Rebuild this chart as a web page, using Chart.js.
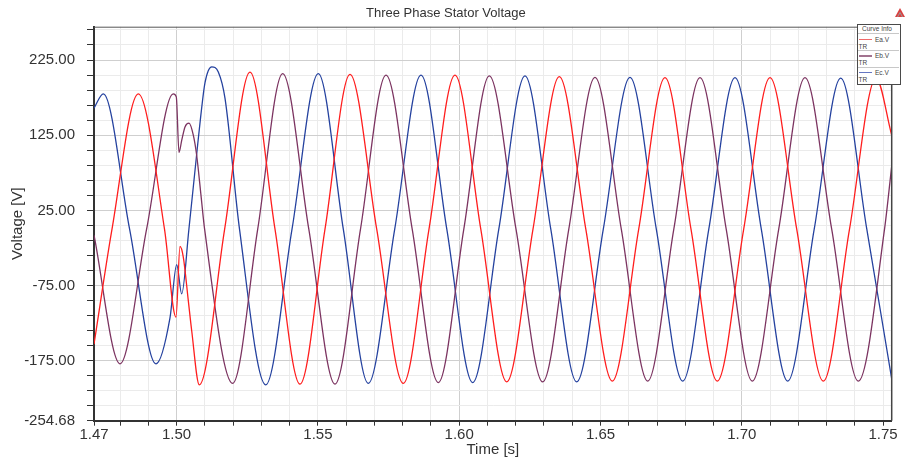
<!DOCTYPE html>
<html>
<head>
<meta charset="utf-8">
<script src="https://cdn.jsdelivr.net/npm/chart.js@4.4.1/dist/chart.umd.min.js"></script>
<style>
  body { margin: 0; background: #fff; }
  #wrap { position: relative; width: 909px; height: 463px; font-family: "Liberation Sans", Arial, sans-serif; }
  #info { position: absolute; left: 856.5px; top: 23.5px; width: 44px; height: 61px; box-sizing: border-box;
          border: 1.5px solid #4a4a4a; background: #fff; }
  .t { position: absolute; font-size: 6.5px; line-height: 7px; color: #444; white-space: nowrap; }
  .sep { position: absolute; left: 858px; width: 41px; height: 1px; background: #c8c8c8; }
  .smp { position: absolute; left: 859px; width: 13px; height: 1.5px; }
</style>
</head>
<body>
<div id="wrap">
  <canvas id="myChart" width="909" height="463"></canvas>
  <div id="info"></div>
  <div class="t" style="left:862px;top:25px;">Curve Info</div>
  <div class="sep" style="top:33px;"></div>
  <div class="smp" style="top:38.5px;background:#f06a6a;"></div>
  <div class="t" style="left:875px;top:35.5px;">Ea.V</div>
  <div class="t" style="left:858.5px;top:42.5px;">TR</div>
  <div class="sep" style="top:49.8px;"></div>
  <div class="smp" style="top:55px;background:#a2728f;"></div>
  <div class="t" style="left:875px;top:52.2px;">Eb.V</div>
  <div class="t" style="left:858.5px;top:58.5px;">TR</div>
  <div class="sep" style="top:66.5px;"></div>
  <div class="smp" style="top:71.7px;background:#6476c2;"></div>
  <div class="t" style="left:875px;top:68.8px;">Ec.V</div>
  <div class="t" style="left:858.5px;top:76px;">TR</div>
  <svg style="position:absolute;left:895px;top:8px;" width="10" height="9" viewBox="0 0 10 9">
    <polygon points="5,0 10,9 0,9" fill="#d94040"/>
    <polyline points="2.5,9 5,4.5 7.5,9" fill="none" stroke="#9a9a9a" stroke-width="1"/>
  </svg>
</div>
<script>
'use strict';

// time [s] and voltage [V] of the three phases
var eaTime = [1.47077, 1.47714, 1.48645, 1.49572, 1.49979, 1.50120, 1.50237, 1.50414, 1.50534, 1.50803,
  1.51700, 1.52597, 1.53482, 1.54367, 1.55251, 1.56136, 1.57081, 1.58022, 1.58931, 1.59851,
  1.60764, 1.61681, 1.62611, 1.63542, 1.64480, 1.65418, 1.66352, 1.67282, 1.68202, 1.69133,
  1.70067, 1.70998, 1.71943, 1.72884, 1.73811, 1.74749, 1.75304];
var eaVolt = [-153, 0, 180, 0, -117, -23, -37, -95, -135, -207,
  0, 209, 0, -206, 0, 206, 0, -205, 0, 205,
  0, -203, 0, 203, 0, -202, 0, 201.5, 0, -202,
  0, 201.5, 0, -202, 0, 201, 125];

var ebTime = [1.47077, 1.47997, 1.48938, 1.49883, 1.49989, 1.50085, 1.50180, 1.50297, 1.50439, 1.50591,
  1.50711, 1.50863, 1.50991, 1.51985, 1.52870, 1.53754, 1.54678, 1.55605, 1.56507, 1.57410,
  1.58337, 1.59261, 1.60163, 1.61065, 1.62010, 1.62955, 1.63878, 1.64805, 1.65736, 1.66670,
  1.67594, 1.68521, 1.69448, 1.70372, 1.71306, 1.72236, 1.73181, 1.74122, 1.75050, 1.75304];
var ebVolt = [-8, -179, 0, 180, 176, 102, 118, 136, 141, 125,
  98, 45, 0, -205, 0, 207, 0, -206, 0, 205,
  0, -204, 0, 204, 0, -203, 0, 202, 0, -202,
  0, 201.5, 0, -202, 0, 201.5, 0, -202, 0, 84];

var ecTime = [1.47077, 1.47406, 1.48337, 1.49271, 1.49766, 1.50004, 1.50180, 1.50435, 1.50711, 1.50853,
  1.51005, 1.51242, 1.51476, 1.51713, 1.52226, 1.53153, 1.54084, 1.55014, 1.55899, 1.56783,
  1.57718, 1.58648, 1.59561, 1.60478, 1.61401, 1.62328, 1.63241, 1.64158, 1.65099, 1.66044,
  1.66975, 1.67909, 1.68832, 1.69759, 1.70690, 1.71624, 1.72562, 1.73500, 1.74423, 1.75304];
var ecVolt = [161, 180, 0, -179, -118, -47, -86, 0, 100, 150,
  195, 216, 209, 174, 0, -207, 0, 207, 0, -205,
  0, 205, 0, -204, 0, 204, 0, -203, 0, 202,
  0, -202, 0, 201.5, 0, -202, 0, 201, 0, -199];

var xMin = 1.47077;
var xMax = 1.75304;
var yMin = -254.68;
var yMax = 269.3;

var xTickValues = [1.47077, 1.50, 1.55, 1.60, 1.65, 1.70, 1.75];
var xTickLabels = ['1.47', '1.50', '1.55', '1.60', '1.65', '1.70', '1.75'];
var yTickValues = [-254.68, -175, -75, 25, 125, 225];
var yTickLabels = ['-254.68', '-175.00', '-75.00', '25.00', '125.00', '225.00'];

function toPoints(times, volts) {
  var pts = [];
  for (var i = 0; i < times.length; i++) {
    pts.push({ x: times[i], y: volts[i] });
  }
  return pts;
}

function findLabel(values, labels, v) {
  for (var i = 0; i < values.length; i++) {
    if (Math.abs(values[i] - v) < 1e-6) return labels[i];
  }
  return '';
}

// top and right frame of the plot
var framePlugin = {
  id: 'frame',
  afterDatasetsDraw: function (chart) {
    var a = chart.chartArea;
    var ctx = chart.ctx;
    ctx.save();
    ctx.strokeStyle = '#555';
    ctx.lineWidth = 1;
    ctx.beginPath();
    ctx.moveTo(a.left, a.top + 0.5);
    ctx.lineTo(a.right, a.top + 0.5);
    ctx.stroke();
    ctx.lineWidth = 1.5;
    ctx.strokeStyle = '#444';
    ctx.beginPath();
    ctx.moveTo(a.right, a.top);
    ctx.lineTo(a.right, a.bottom);
    ctx.stroke();
    ctx.restore();
  }
};

var font = { family: '"Liberation Sans", Arial, sans-serif', size: 15 };

var ctx = document.getElementById('myChart').getContext('2d');
var chart = new Chart(ctx, {
  type: 'line',
  data: {
    datasets: [{
      label: 'Ea.V',
      data: toPoints(eaTime, eaVolt),
      borderColor: '#ff1e1e'
    }, {
      label: 'Eb.V',
      data: toPoints(ebTime, ebVolt),
      borderColor: '#7c3461'
    }, {
      label: 'Ec.V',
      data: toPoints(ecTime, ecVolt),
      borderColor: '#25429f'
    }]
  },
  options: {
    responsive: false,
    animation: false,
    devicePixelRatio: 1,
    layout: { padding: { left: 0, right: 17.3, top: 0, bottom: 0 } },
    elements: {
      line: { borderWidth: 1.3, cubicInterpolationMode: 'monotone', fill: false },
      point: { radius: 0 }
    },
    plugins: {
      legend: { display: false },
      tooltip: { enabled: false },
      title: {
        display: true,
        text: 'Three Phase Stator Voltage',
        color: '#333',
        font: { family: font.family, size: 13, weight: 'normal' },
        padding: { top: 5.2, bottom: 5.9 }
      }
    },
    scales: {
      x: {
        type: 'linear',
        min: xMin,
        max: xMax,
        afterBuildTicks: function (scale) {
          var ticks = [{ value: xMin }];
          for (var k = 148; k <= 175; k++) ticks.push({ value: k / 100 });
          scale.ticks = ticks;
        },
        afterFit: function (scale) { scale.height = 42.3; },
        ticks: {
          autoSkip: false,
          maxRotation: 0,
          padding: 0,
          color: '#333',
          font: font,
          callback: function (value) { return findLabel(xTickValues, xTickLabels, value); }
        },
        grid: {
          tickLength: 5,
          tickColor: '#333',
          lineWidth: 1,
          color: function (c) {
            var v = c.tick ? c.tick.value : 0;
            return Math.abs(v * 10 - Math.round(v * 10)) < 1e-6 ? '#cfcfcf' : '#ebebeb';
          }
        },
        border: { display: true, color: '#333', width: 2 },
        title: {
          display: true,
          text: 'Time [s]',
          color: '#333',
          font: font,
          padding: { top: 0, bottom: 4 }
        }
      },
      y: {
        type: 'linear',
        min: yMin,
        max: yMax,
        afterBuildTicks: function (scale) {
          var ticks = [{ value: yMin }];
          for (var v = -235; v <= 265; v += 20) ticks.push({ value: v });
          scale.ticks = ticks;
        },
        afterFit: function (scale) { scale.width = 94; },
        ticks: {
          autoSkip: false,
          padding: 12,
          color: '#333',
          font: font,
          callback: function (value) { return findLabel(yTickValues, yTickLabels, value); }
        },
        grid: {
          tickLength: 7,
          tickColor: '#333',
          lineWidth: 1,
          color: function (c) {
            var v = c.tick ? c.tick.value : 0;
            return ((v - 25) % 100 === 0) ? '#cfcfcf' : '#ebebeb';
          }
        },
        border: { display: true, color: '#333', width: 2 },
        title: {
          display: true,
          text: 'Voltage [V]',
          color: '#333',
          font: font,
          padding: { top: 9, bottom: 0 }
        }
      }
    }
  },
  plugins: [framePlugin]
});
</script>
</body>
</html>
